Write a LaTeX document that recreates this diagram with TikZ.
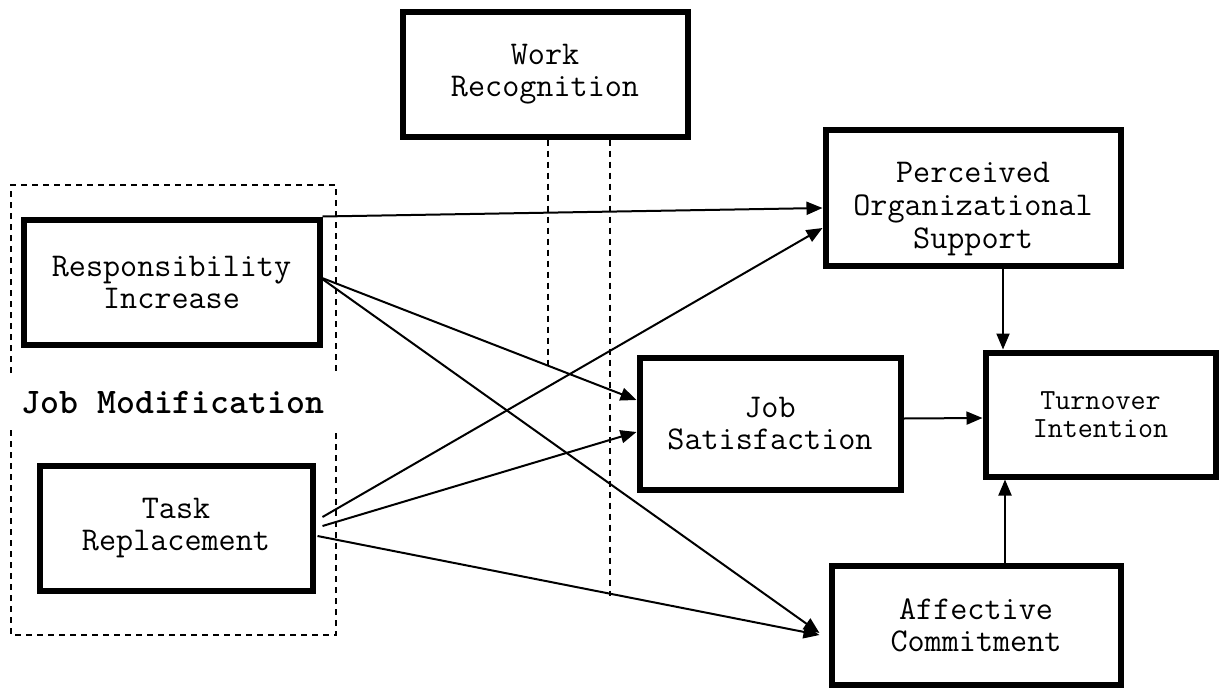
\documentclass[tikz,border=0pt]{standalone}
\usepackage{fontspec}
\usetikzlibrary{arrows.meta,calc}

\begin{document}
\begin{tikzpicture}[x=0.5pt, y=-0.5pt,
    box/.style={draw, line width=3pt, align=center, inner sep=0pt, font=\ttfamily\fontsize{16.6}{16}\selectfont},
    link/.style={-{Triangle[length=8pt,width=6.5pt]}, line width=1pt},
    guide/.style={dash pattern=on 3pt off 2.5pt, line width=0.8pt}]
    \useasboundingbox (0,0) rectangle (1221,691);
    % Draw boxes
    \node [box, minimum width=142.5pt, minimum height=62.5pt] (wr) at (545,74) {Work\\Recognition};
    \node [box, minimum width=148pt, minimum height=62.5pt] (ri) at (171.5,282) {Responsibility\\Increase};
    \node [box, minimum width=136.5pt, minimum height=62.5pt] (tr) at (176,528) {Task\\Replacement};
    \node [box, minimum width=147.5pt, minimum height=68pt] (pos) at (973,197.5) {};
    \node [align=center, font=\ttfamily\fontsize{16.6}{16.5}\selectfont] (lpos) at ($(pos)+(0,12)$) {Perceived\\Organizational\\Support};
    \node [box, minimum width=130.5pt, minimum height=66pt] (js) at (770,423.5) {Job\\Satisfaction};
    \node [box, minimum width=115pt, minimum height=62pt, font=\ttfamily\fontsize{14.6}{14}\selectfont] (ti) at (1100.5,414.5) {Turnover\\Intention};
    \node [box, minimum width=144.5pt, minimum height=59.5pt] (ac) at (976,625) {Affective\\Commitment};
    % Group around the job modification boxes
    \draw [guide] (11,373) -- (11,185) -- (336,185) -- (336,373);
    \draw [guide] (11,430) -- (11,635) -- (336,635) -- (336,430);
    \node [font=\ttfamily\bfseries\fontsize{18}{18}\selectfont] (ljm) at (173,403) {Job Modification};
    % Dashed lines below work recognition
    \draw [guide] ($(wr.south)+(3,0)$) -- ++(0,226);
    \draw [guide] ($(wr.south)+(65,0)$) -- ++(0,456);
    % Draw paths
    \draw [link] (ri.north east) -- ($(pos.west)+(0,10.5)$);
    \draw [link] ($(ri.east)+(-3,-5)$) -- ($(js.west)+(0,-23.5)$);
    \draw [link] ($(ri.east)+(-3,-5)$) -- ($(ac.west)+(-9,8)$);
    \draw [link] ($(tr.east)+(7,-11)$) -- ($(pos.west)+(0,30.5)$);
    \draw [link] ($(tr.east)+(7,-2)$) -- ($(js.west)+(0,8.5)$);
    \draw [link] ($(tr.east)+(2,8)$) -- ($(ac.west)+(-9,10)$);
    \draw [link] ($(js.east)+(0,-5)$) -- ($(ti.west)+(0,3.5)$);
    \draw [link] ($(pos.south)+(30,0)$) -- ($(ti.north)+(-97.5,0)$);
    \draw [link] ($(ac.north)+(29,0)$) -- ($(ti.south)+(-95.5,0)$);
\end{tikzpicture}
\end{document}
